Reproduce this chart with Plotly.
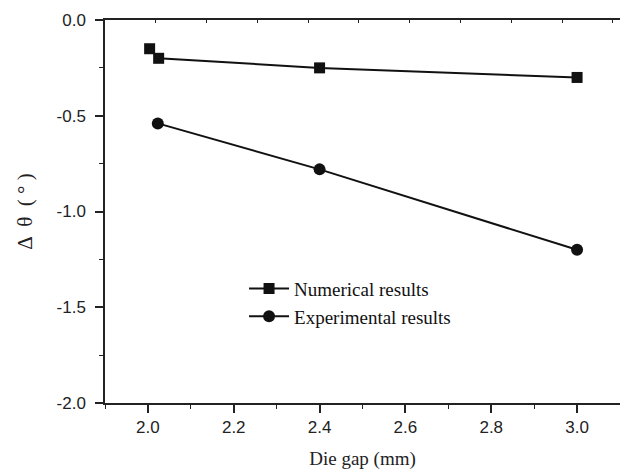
import plotly.graph_objects as go

num_x = [2.004, 2.025, 2.4, 3.0]
num_y = [-0.15, -0.20, -0.25, -0.30]
exp_x = [2.023, 2.4, 3.0]
exp_y = [-0.54, -0.78, -1.20]

x_ticks = [2.0, 2.2, 2.4, 2.6, 2.8, 3.0]
y_ticks = [0.0, -0.5, -1.0, -1.5, -2.0]

fig = go.Figure()
fig.add_trace(go.Scatter(x=num_x, y=num_y, mode="lines+markers", name="Numerical results",
                         line=dict(color="#111", width=2),
                         marker=dict(symbol="square", size=11, color="#111")))
fig.add_trace(go.Scatter(x=exp_x, y=exp_y, mode="lines+markers", name="Experimental results",
                         line=dict(color="#111", width=2),
                         marker=dict(symbol="circle", size=12, color="#111")))
# dummy trace on top axis for the top frame ticks
fig.add_trace(go.Scatter(x=[0], y=[0], xaxis="x2", mode="markers", showlegend=False,
                         marker=dict(opacity=0), hoverinfo="skip"))

fig.update_layout(
    width=620, height=475,
    margin=dict(l=105, r=0, t=20, b=72),
    paper_bgcolor="white", plot_bgcolor="white",
    showlegend=True,
    legend=dict(x=0.270, y=0.262, xanchor="left", yanchor="middle",
                font=dict(family="Liberation Serif", size=19, color="#111"),
                bgcolor="rgba(0,0,0,0)", itemwidth=40, tracegroupgap=0),
    xaxis=dict(range=[1.9, 3.1], tickvals=x_ticks, ticktext=[f"{v:.1f}" for v in x_ticks],
               showline=True, linecolor="#222", linewidth=1.5, mirror=False,
               ticks="outside", ticklen=8, tickwidth=1.5, tickcolor="#222",
               minor=dict(dtick=0.1, ticks="outside", ticklen=4, tickcolor="#222", tickwidth=1.2),
               showgrid=False, zeroline=False,
               tickfont=dict(family="Liberation Sans", size=17, color="#222"),
               title=dict(text="Die gap (mm)", font=dict(family="Liberation Serif", size=19, color="#222"), standoff=16)),
    xaxis2=dict(overlaying="x", side="top", range=[0, 10.14], dtick=1, showticklabels=False,
                showline=True, linecolor="#222", linewidth=1.5,
                ticks="inside", ticklen=3, tickcolor="#222", showgrid=False, zeroline=False),
    yaxis=dict(range=[-2.0, 0.0], tickvals=y_ticks, ticktext=[f"{v:.1f}" for v in y_ticks],
               showline=True, linecolor="#222", linewidth=1.5,
               ticks="outside", ticklen=8, tickwidth=1.5, tickcolor="#222",
               minor=dict(dtick=0.25, ticks="outside", ticklen=4, tickcolor="#222", tickwidth=1.2),
               showgrid=False, zeroline=False, ticklabelstandoff=6,
               tickfont=dict(family="Liberation Sans", size=17, color="#222"),
               title=dict(text="Δ  θ  ( ° )", font=dict(family="Liberation Serif", size=21, color="#222"), standoff=18)),
)

fig.write_html("out.html")
